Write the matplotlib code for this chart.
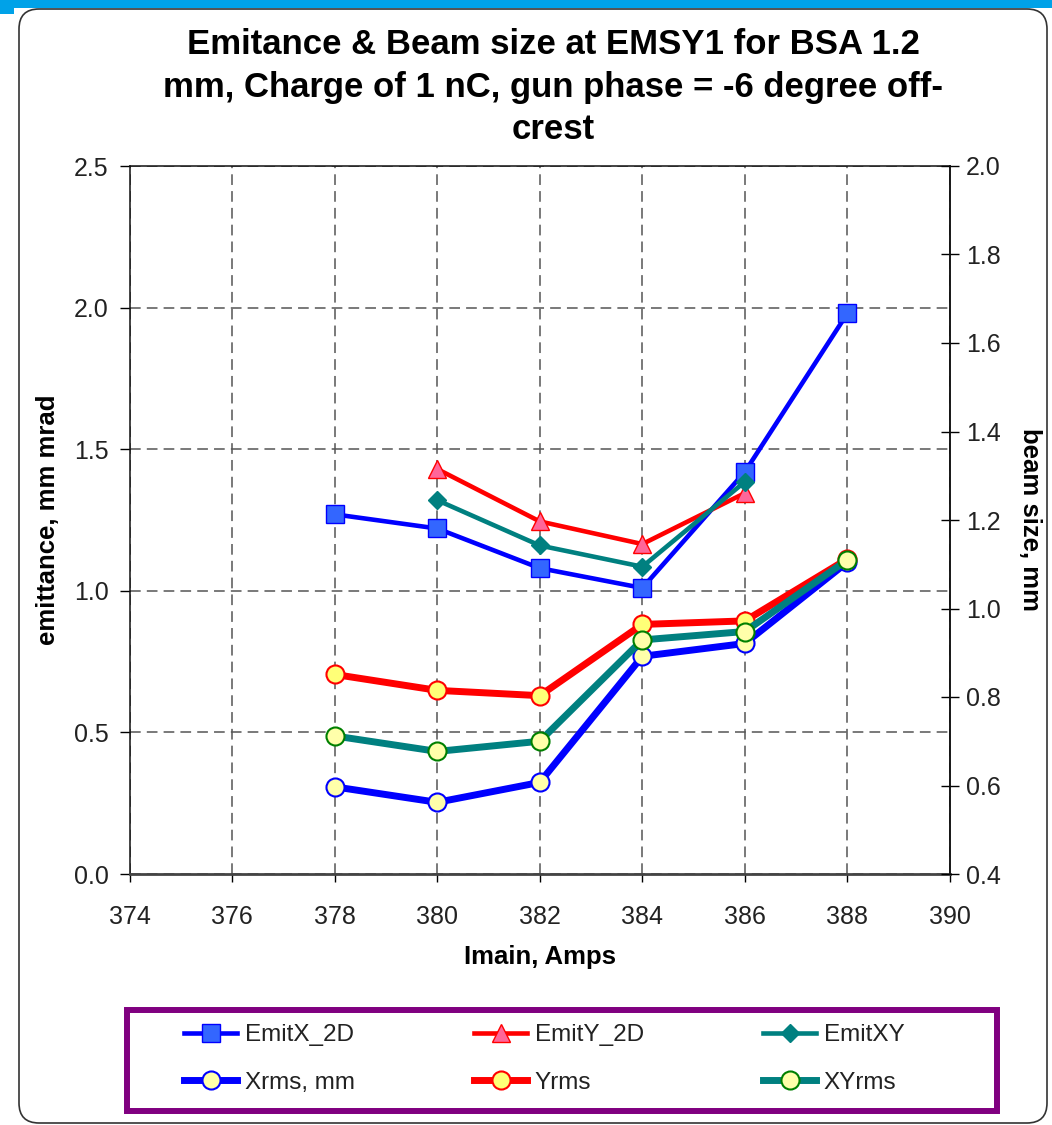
import numpy as np
import matplotlib
matplotlib.use("Agg")
import matplotlib.pyplot as plt
from matplotlib.patches import Rectangle, FancyBboxPatch

plt.rcParams['font.family'] = ['Liberation Sans', 'DejaVu Sans']

# Solenoid main current scan (A)
amps = [378, 380, 382, 384, 386, 388]

# Emittance, mm mrad (left axis)
emitx_2d = [1.27, 1.22, 1.08, 1.01, 1.42, 1.98]
emity_2d = [np.nan, 1.43, 1.245, 1.165, 1.345, np.nan]
emit_xy = [np.nan, 1.32, 1.16, 1.085, 1.385, np.nan]

# Beam size, mm (right axis)
xrms = [0.597, 0.562, 0.607, 0.892, 0.921, 1.105]
yrms = [0.851, 0.815, 0.803, 0.964, 0.972, 1.112]
xyrms = [0.712, 0.677, 0.700, 0.929, 0.948, 1.110]

x_ticks = [374, 376, 378, 380, 382, 384, 386, 388, 390]
left_ticks = [0.0, 0.5, 1.0, 1.5, 2.0, 2.5]
right_ticks = [0.4, 0.6, 0.8, 1.0, 1.2, 1.4, 1.6, 1.8, 2.0]

title = ("Emitance & Beam size at EMSY1 for BSA 1.2\n"
         "mm, Charge of 1 nC, gun phase = -6 degree off-\n"
         "crest")

W, H = 1052, 1125
fig = plt.figure(figsize=(W / 100, H / 100), dpi=100)
fig.patch.set_facecolor("white")

# Page decorations: blue strip on top and rounded chart frame
fig.patches.append(Rectangle((0, 1 - 8 / H), 1, 8 / H, transform=fig.transFigure,
                             facecolor="#00A2E8", edgecolor="none", zorder=0))
fig.patches.append(Rectangle((0, 1 - 14 / H), 14 / W, 7 / H, transform=fig.transFigure,
                             facecolor="#00A2E8", edgecolor="none", zorder=0))
fig.patches.append(FancyBboxPatch((0.19, 0.02), 10.28, 11.14,
                                  boxstyle="round,pad=0,rounding_size=0.2",
                                  transform=fig.dpi_scale_trans,
                                  facecolor="none", edgecolor="#333333",
                                  linewidth=1.2, zorder=0))

left, right, top, bottom = 129.5 / W, 950 / W, 1 - 166 / H, 1 - 874 / H
ax = fig.add_axes([left, bottom, right - left, top - bottom])
ax2 = ax.twinx()

grid_style = dict(color="#555555", linewidth=1.1, linestyle=(0, (7, 4)))
ax.set_xlim(374, 390)
ax.set_ylim(0, 2.5)
ax2.set_ylim(0.4, 2.0)
ax.set_xticks(x_ticks)
ax.set_yticks(left_ticks)
ax2.set_yticks(right_ticks)
ax.set_yticklabels([f"{v:.1f}" for v in left_ticks])
ax2.set_yticklabels([f"{v:.1f}" for v in right_ticks])
ax.grid(True, **grid_style)
ax.set_axisbelow(True)

for s in ("left", "right", "top"):
    ax.spines[s].set_color("#111111")
    ax.spines[s].set_linewidth(1.1)
ax.spines["bottom"].set_color("#444444")
ax.spines["bottom"].set_linewidth(2.0)
for s in ax2.spines.values():
    s.set_visible(False)
ax2.spines["right"].set_visible(True)
ax2.spines["right"].set_color("#111111")
ax2.spines["right"].set_linewidth(1.1)

tick_font = dict(labelsize=18, labelcolor="#222222")
ax.tick_params(axis="y", direction="out", length=7, width=1.0, pad=8, **tick_font)
ax.tick_params(axis="x", direction="out", length=6, width=1.0, pad=16, **tick_font)
ax2.tick_params(axis="y", direction="inout", length=13, width=1.0, pad=5, **tick_font)

# Emittance series (left axis)
ax.plot(amps, emitx_2d, color="#0000FF", linewidth=3.3, marker="s", markersize=12.5,
        markerfacecolor="#3366FF", markeredgecolor="#0000FF", markeredgewidth=1,
        label="EmitX_2D", zorder=3)
ax.plot(amps, emity_2d, color="#FF0000", linewidth=3.3, marker="^", markersize=12.5,
        markerfacecolor="#FF6699", markeredgecolor="#FF0000", markeredgewidth=1,
        label="EmitY_2D", zorder=3)
ax.plot(amps, emit_xy, color="#008080", linewidth=3.3, marker="D", markersize=9.5,
        markerfacecolor="#008080", markeredgecolor="#008080",
        label="EmitXY", zorder=3)

# Beam size series (right axis)
ax2.plot(amps, xrms, color="#0000FF", linewidth=5, marker="o", markersize=13,
         markerfacecolor="#FFFFAA", markeredgecolor="#0000FF", markeredgewidth=1.5,
         label="Xrms, mm")
ax2.plot(amps, yrms, color="#FF0000", linewidth=5, marker="o", markersize=13,
         markerfacecolor="#FFFF77", markeredgecolor="#FF0000", markeredgewidth=1.5,
         label="Yrms")
ax2.plot(amps, xyrms, color="#008080", linewidth=5, marker="o", markersize=13,
         markerfacecolor="#FFFFAA", markeredgecolor="#008000", markeredgewidth=1.5,
         label="XYrms")

ax.set_xlabel("Imain, Amps", fontsize=18.5, fontweight="bold", labelpad=12)
fig.text(48 / W, 1 - 520 / H, "emittance, mm mrad", rotation=90, fontsize=18.5,
         fontweight="bold", ha="center", va="center")
fig.text(1030 / W, 1 - 519 / H, "beam size, mm", rotation=-90, fontsize=18.5,
         fontweight="bold", ha="center", va="center")

fig.text(553 / W, 1 - 87 / H, title, fontsize=25, fontweight="bold",
         ha="center", va="center", multialignment="center", linespacing=1.38)

# Legend with a purple outline
h1, l1 = ax.get_legend_handles_labels()
h2, l2 = ax2.get_legend_handles_labels()
order = [0, 3, 1, 4, 2, 5]
handles = [(h1 + h2)[i] for i in order]
labels = [(l1 + l2)[i] for i in order]
leg = fig.legend(handles, labels, ncol=3, loc="upper left",
                 bbox_to_anchor=(184 / W, 1 - 1024 / H), frameon=False,
                 fontsize=17.5, handlelength=2.2, handletextpad=0.3,
                 columnspacing=4.9, labelspacing=1.05, borderpad=0,
                 borderaxespad=0)
for t in leg.get_texts():
    t.set_color("#222222")
fig.patches.append(Rectangle((127 / W, 1 - 1111 / H), 870 / W, 101 / H,
                             transform=fig.transFigure, facecolor="none",
                             edgecolor="#800080", linewidth=4.3, zorder=1))

fig.savefig("out.png", dpi=100)
